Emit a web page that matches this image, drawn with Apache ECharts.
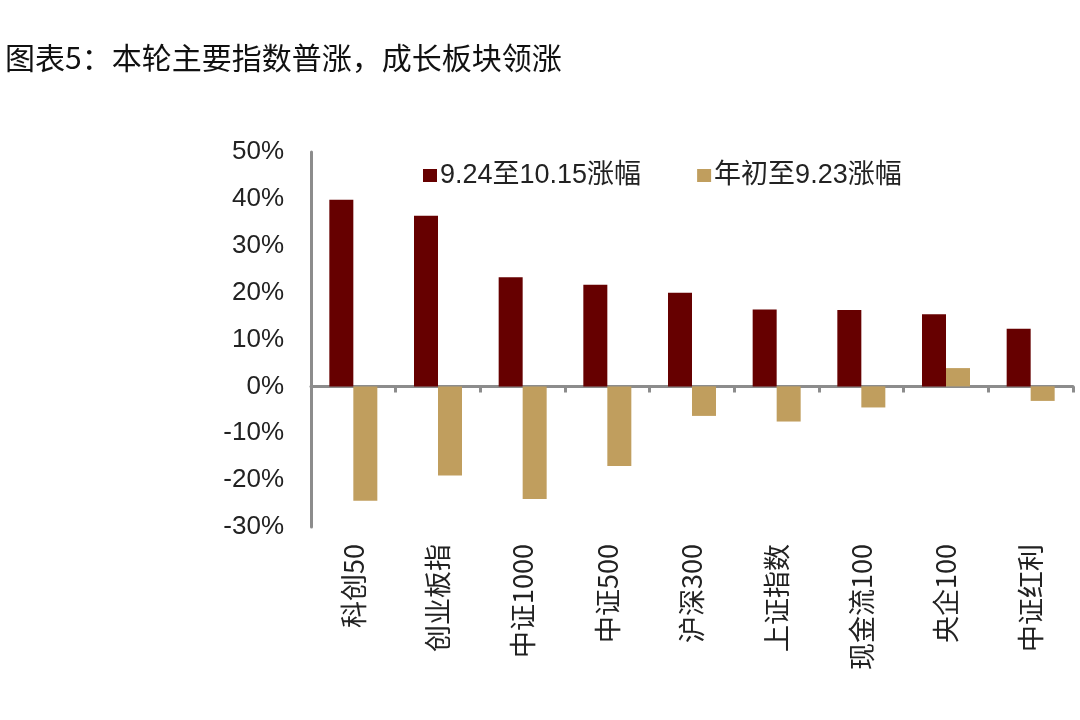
<!DOCTYPE html>
<html><head><meta charset="utf-8">
<script src="https://cdn.jsdelivr.net/npm/echarts@6/dist/echarts.min.js"></script>
<style>html,body{margin:0;padding:0;background:#fff}#c{width:1080px;height:720px}</style>
</head><body><div id="c"></div>
<script>
const titleText = '图表5：本轮主要指数普涨，成长板块领涨';
const categories = ['科创50','创业板指','中证1000','中证500','沪深300','上证指数','现金流100','央企100','中证红利'];
const seriesNames = ['9.24至10.15涨幅','年初至9.23涨幅'];
const rise924to1015 = [39.8, 36.4, 23.3, 21.7, 20.0, 16.4, 16.3, 15.4, 12.3];
const ytdTo923 = [-24.4, -19.0, -24.0, -17.0, -6.3, -7.5, -4.5, 3.9, -3.1];
const yTicks = {min: -30, max: 50, interval: 10};

const chart = echarts.init(document.getElementById('c'), null, {renderer: 'canvas'});
const latin = 'Liberation Sans, Arial, Noto Sans CJK SC, sans-serif';
const cjk = 'Noto Sans CJK SC, sans-serif';
chart.setOption({
  animation: false,
  backgroundColor: '#fff',
  title: {text: titleText, left: 0, top: 38, textStyle: {fontFamily: cjk, fontSize: 30, fontWeight: 'normal', color: '#111'}},
  legend: {
    left: 418, top: 157, itemWidth: 14, itemHeight: 13, itemGap: 56, icon: 'rect',
    textStyle: {fontFamily: latin, fontSize: 27, color: '#222', padding: [0,0,0,-2]},
    data: seriesNames
  },
  grid: {left: 311, right: 7, top: 152, bottom: 193, containLabel: false},
  xAxis: [{
    type: 'category', data: categories, position: 'bottom',
    axisLine: {onZero: true, lineStyle: {color: '#8c8c8c', width: 3}},
    axisTick: {show: true, length: 6, lineStyle: {color: '#8c8c8c', width: 3}},
    axisLabel: {show: false}
  }, {
    type: 'category', data: categories, position: 'bottom',
    axisLine: {show: false, onZero: false}, axisTick: {show: false},
    axisLabel: {rotate: 90, margin: 17, fontFamily: cjk, fontSize: 27, color: '#222'}
  }],
  yAxis: {
    type: 'value', min: yTicks.min, max: yTicks.max, interval: yTicks.interval,
    axisLine: {show: true, lineStyle: {color: '#8c8c8c', width: 3}},
    axisTick: {show: false}, splitLine: {show: false},
    axisLabel: {formatter: '{value}%', fontFamily: latin, fontSize: 26, color: '#222', margin: 27}
  },
  series: [
    {name: seriesNames[0], type: 'bar', data: rise924to1015, barWidth: 24, barGap: '0%', xAxisIndex: 0,
     itemStyle: {color: '#660000'}},
    {name: seriesNames[1], type: 'bar', data: ytdTo923, barWidth: 24, barGap: '0%', xAxisIndex: 0,
     itemStyle: {color: '#C09E5E'}}
  ]
});
</script></body></html>
